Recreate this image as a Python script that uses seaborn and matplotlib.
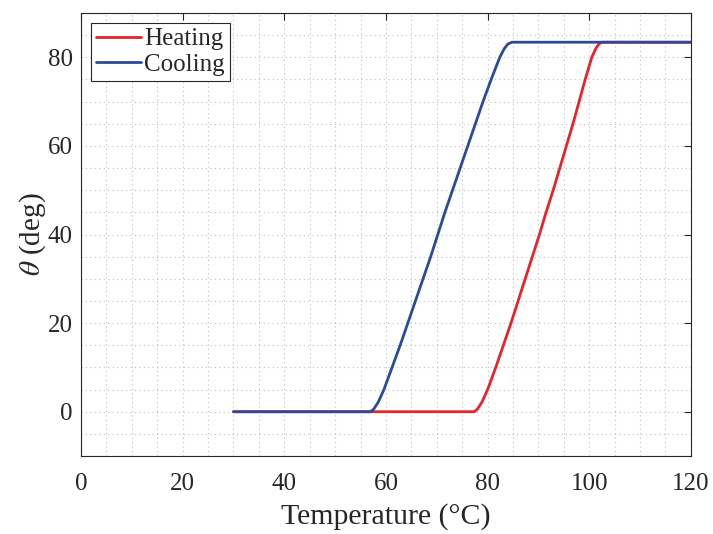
import pandas as pd
import seaborn as sns
import matplotlib
matplotlib.use('Agg')
import matplotlib.pyplot as plt
from matplotlib.ticker import MultipleLocator


# DATA
heat_temp = [30, 77.4, 78.0, 78.9, 80.0, 81.6, 83.1, 84.6, 86.0, 87.4, 88.8, 90.2, 91.5,
             92.9, 94.2, 95.5, 96.8, 98.0, 99.2, 100.5, 101.3, 101.9, 102.5, 120]
heat_theta = [0, 0, 0.6, 2.2, 5, 10, 15, 20, 25, 30, 35, 40, 45,
              50, 55, 60, 65, 70, 75, 80, 82.0, 83.0, 83.4, 83.4]

cool_temp = [30, 57.0, 57.6, 58.5, 59.6, 61.2, 62.8, 64.3, 65.8, 67.3, 68.8, 70.2, 71.6,
             73.1, 74.6, 76.1, 77.6, 79.1, 80.7, 82.4, 83.3, 84.0, 84.8, 120]
cool_theta = [0, 0, 0.6, 2.2, 5, 10, 15, 20, 25, 30, 35, 40, 45,
              50, 55, 60, 65, 70, 75, 80, 82.0, 83.0, 83.4, 83.4]

x_ticks = [0, 20, 40, 60, 80, 100, 120]
y_ticks = [0, 20, 40, 60, 80]


df = pd.concat([
    pd.DataFrame({'Temperature': heat_temp, 'theta': heat_theta, 'Mode': 'Heating'}),
    pd.DataFrame({'Temperature': cool_temp, 'theta': cool_theta, 'Mode': 'Cooling'}),
])


# STYLE
sns.set_style('white')
plt.rcParams['font.family'] = ['Liberation Serif', 'DejaVu Serif']
plt.rcParams['mathtext.fontset'] = 'stix'

fig = plt.figure(figsize=(7.13, 5.34), dpi=100)
ax = fig.add_axes([0.1136, 0.146, 0.8554, 0.8297])

sns.lineplot(data=df, x='Temperature', y='theta', hue='Mode', estimator=None, sort=False,
             palette={'Heating': '#E8232A', 'Cooling': '#2B4A9C'}, linewidth=2.0, ax=ax)

ax.set_xlim(0, 120)
ax.set_ylim(-10, 90)
ax.set_xticks(x_ticks)
ax.set_yticks(y_ticks)
ax.xaxis.set_minor_locator(MultipleLocator(5))
ax.yaxis.set_minor_locator(MultipleLocator(5))
ax.grid(which='both', linestyle=(0, (1, 3)), color='#bdbdbd', linewidth=0.8)
ax.tick_params(which='major', direction='in', length=5, width=0.8, top=True, right=True,
               labelsize=18, colors='#262626')
ax.tick_params(axis='x', which='major', pad=12)
ax.tick_params(axis='y', which='major', pad=6)
ax.tick_params(which='minor', length=0)
for s in ax.spines.values():
    s.set_color('#262626')
    s.set_linewidth(0.8)

ax.set_xlabel('Temperature (°C)', fontsize=21.5, color='#262626', labelpad=6)
ax.set_ylabel(r'$\theta$ (deg)', fontsize=21, color='#262626', labelpad=0)

leg = ax.legend(loc='upper left', fontsize=18, frameon=True, fancybox=False,
                borderpad=0.2, handlelength=1.8, handletextpad=0.12, labelspacing=0.12,
                borderaxespad=0.4)
leg.get_frame().set_edgecolor('#262626')
leg.get_frame().set_linewidth(0.8)
leg.get_frame().set_alpha(1)
for line in leg.get_lines():
    line.set_linewidth(2.0)

fig.savefig('out.png', dpi=100)
